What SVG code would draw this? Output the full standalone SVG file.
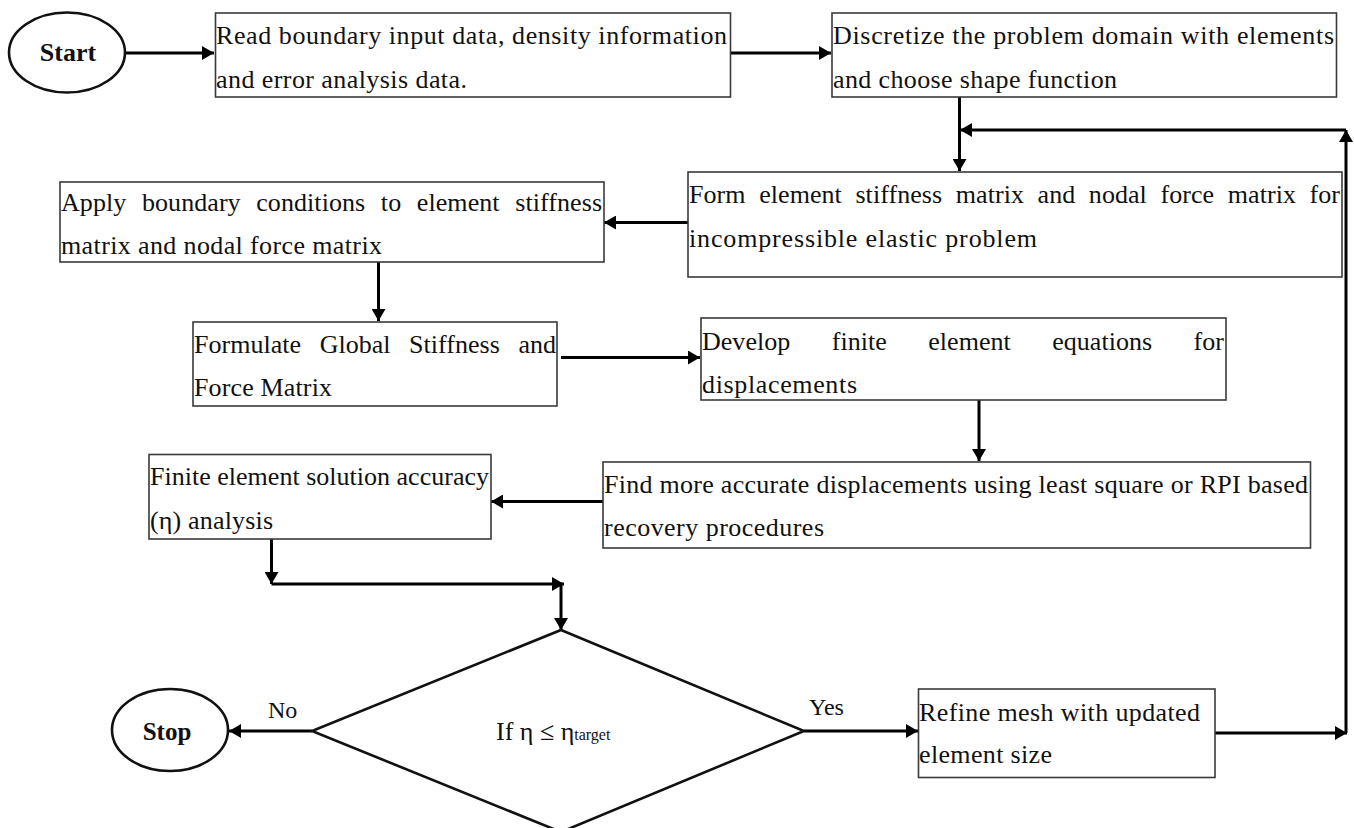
<svg xmlns="http://www.w3.org/2000/svg" width="1354" height="828" viewBox="0 0 1354 828">
<style>
.bg{fill:#fff}
.box{fill:#fff;stroke:#3a3a3a;stroke-width:1.6}
.term{fill:#fff;stroke:#111;stroke-width:2.6}
.t{font-family:"Liberation Serif","Times New Roman",serif;font-size:26px;fill:#111}
.b{font-weight:bold;text-anchor:middle;font-size:25px}
.lbl{font-size:24px}
.c{fill:none;stroke:#000;stroke-width:3;marker-end:url(#ah)}
</style>
<defs>
<marker id="ah" markerUnits="userSpaceOnUse" markerWidth="14" markerHeight="14" refX="12" refY="7" orient="auto">
<path d="M0,0 L12,7 L0,14 z" fill="#000"/>
</marker>
</defs>
<rect class="bg" x="0" y="0" width="1354" height="828"/>

<g id="connectors">
<path class="c" d="M125,53 H214"/>
<path class="c" d="M731,53 H831"/>
<path class="c" d="M959.5,97 V171"/>
<path class="c" d="M1346,733 V130"/>
<path class="c" d="M1346,130 H960"/>
<path class="c" d="M688,222.5 H604"/>
<path class="c" d="M378.5,262 V321"/>
<path class="c" d="M561,357.5 H700"/>
<path class="c" d="M979,400 V461"/>
<path class="c" d="M603,501.5 H491"/>
<path class="c" d="M271.5,539 V584"/>
<path class="c" d="M271.5,584 H564"/>
<path class="c" d="M561,584 V630"/>
<path class="c" d="M312,731 H229"/>
<path class="c" d="M804,731 H918"/>
<path class="c" d="M1215,733 H1347"/>
</g>

<g id="start">
<ellipse class="term" cx="67" cy="52.5" rx="58" ry="40"/>
<text class="t b" x="68" y="61" style="font-size:26px">Start</text>
</g>

<g id="read">
<rect class="box" x="215.5" y="13" width="515" height="84"/>
<text class="t" x="216" y="44" textLength="511" lengthAdjust="spacing">Read boundary input data, density information</text>
<text class="t" x="216" y="88" textLength="251" lengthAdjust="spacing">and error analysis data.</text>
</g>

<g id="discretize">
<rect class="box" x="832" y="13" width="504.5" height="84"/>
<text class="t" x="833" y="44" textLength="501" lengthAdjust="spacing">Discretize the problem domain with elements</text>
<text class="t" x="833" y="88" textLength="284" lengthAdjust="spacing">and choose shape function</text>
</g>

<g id="form">
<rect class="box" x="688" y="172" width="654" height="105"/>
<text class="t" x="689" y="203" word-spacing="7" textLength="651" lengthAdjust="spacing">Form element stiffness matrix and nodal force matrix for</text>
<text class="t" x="689" y="247" textLength="348" lengthAdjust="spacing">incompressible elastic problem</text>
</g>

<g id="apply">
<rect class="box" x="60" y="182" width="544" height="80"/>
<text class="t" x="61" y="211" word-spacing="9" textLength="541" lengthAdjust="spacing">Apply boundary conditions to element stiffness</text>
<text class="t" x="61" y="254" textLength="321" lengthAdjust="spacing">matrix and nodal force matrix</text>
</g>

<g id="formulate">
<rect class="box" x="193" y="322" width="364" height="84"/>
<text class="t" x="194" y="353" word-spacing="12" textLength="362" lengthAdjust="spacing">Formulate Global Stiffness and</text>
<text class="t" x="194" y="396" textLength="138" lengthAdjust="spacing">Force Matrix</text>
</g>

<g id="develop">
<rect class="box" x="701" y="318" width="525" height="82"/>
<text class="t" x="702" y="350" word-spacing="35" textLength="522" lengthAdjust="spacing">Develop finite element equations for</text>
<text class="t" x="702" y="393" textLength="155" lengthAdjust="spacing">displacements</text>
</g>

<g id="find">
<rect class="box" x="603" y="462" width="707.5" height="86"/>
<text class="t" x="604" y="493" textLength="704" lengthAdjust="spacing">Find more accurate displacements using least square or RPI based</text>
<text class="t" x="604" y="536" textLength="220" lengthAdjust="spacing">recovery procedures</text>
</g>

<g id="finite">
<rect class="box" x="149" y="454.5" width="342" height="84.5"/>
<text class="t" x="150" y="485" textLength="339" lengthAdjust="spacing">Finite element solution accuracy</text>
<text class="t" x="150" y="529" textLength="123" lengthAdjust="spacing">(η) analysis</text>
</g>

<g id="decision">
<polygon points="561,630 804,731 561,832 312,731" fill="#fff" stroke="#111" stroke-width="2.6" stroke-linejoin="miter"/>
<text class="t" x="496" y="740">If η ≤ η<tspan style="font-size:16px">target</tspan></text>
</g>

<g id="stop">
<ellipse class="term" cx="170" cy="730" rx="58" ry="41"/>
<text class="t b" x="167" y="740">Stop</text>
</g>

<g id="refine">
<rect class="box" x="918.5" y="689" width="296.5" height="88.5"/>
<text class="t" x="919" y="721" textLength="281" lengthAdjust="spacing">Refine mesh with updated</text>
<text class="t" x="919" y="763" textLength="133" lengthAdjust="spacing">element size</text>
</g>

<g id="labels">
<text class="t lbl" x="268" y="718">No</text>
<text class="t lbl" x="809" y="715">Yes</text>
</g>
</svg>
